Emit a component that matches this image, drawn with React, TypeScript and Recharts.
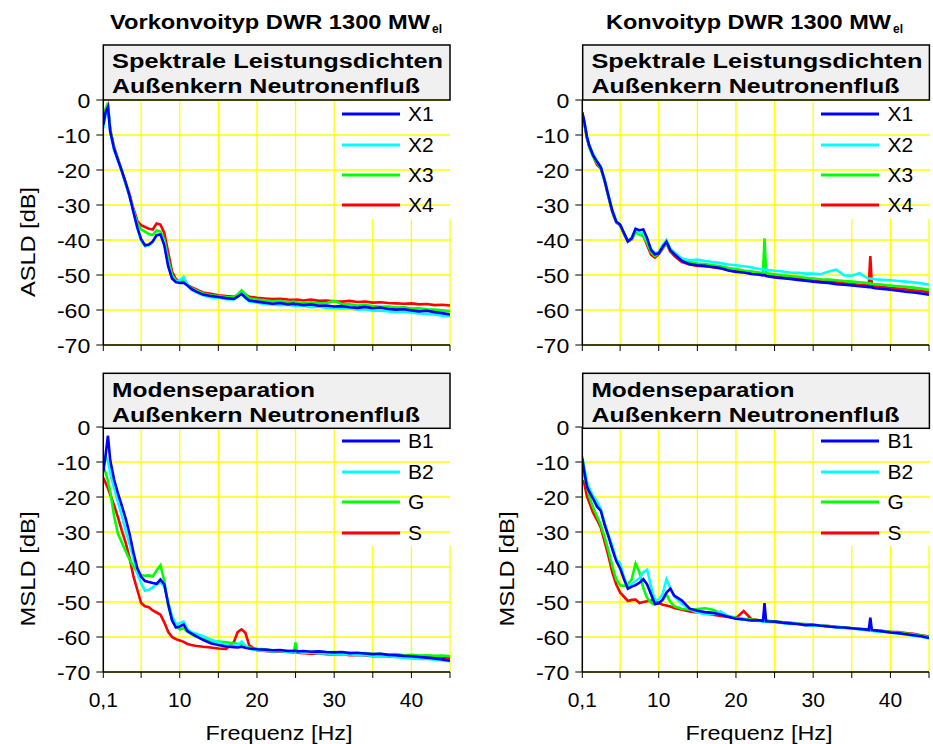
import React from "react";
import { LineChart, Line, XAxis, YAxis, CartesianGrid, ReferenceLine, Legend } from "recharts";

// frequency grid of the left column (Vorkonvoi), Hz
const FREQ_LEFT = [
  0.1, 0.4, 0.7, 1, 1.5, 2, 2.5, 3, 3.5, 4, 4.5,
  5, 5.5, 6, 6.5, 7, 7.5, 8, 8.5, 9, 9.5,
  10, 10.5, 11, 11.5, 12,
  13, 14, 15, 16, 17, 17.5, 18, 18.5, 19, 20, 21, 22, 23, 24,
  24.8, 25, 25.2,
  26, 27, 28, 29, 30, 31, 32, 33, 34, 35, 36, 37, 38, 39, 40, 41, 42, 43, 44, 45,
];

// frequency grid of the right column (Konvoi), Hz
const FREQ_RIGHT = [
  0.1, 0.3, 0.7, 1, 1.5, 2, 2.5, 3, 3.5, 4, 4.5,
  5, 5.5, 6, 6.5, 7, 7.5, 8, 8.5, 9, 9.5,
  10, 10.5, 11, 11.5, 12,
  13, 14, 15, 16, 17, 18, 19, 20, 21, 22, 23,
  23.5, 23.7, 23.9,
  25, 26, 27, 28, 29, 30, 31, 32, 33, 34, 35, 36, 37,
  37.2, 37.4, 37.6,
  38, 39, 40, 41, 42, 43, 44, 45,
];

// ASLD Vorkonvoi [dB]
const TL_X1 = [
  -7.1, -3.5, -2.0, -9.0, -14.0, -17.2, -20.3, -23.6, -27.4, -32.0, -36.4,
  -39.8, -41.5, -41.3, -40.4, -38.6, -38.4, -41.5, -47.5, -51.0, -52.0,
  -52.3, -52.2, -53.0, -54.0, -54.6,
  -55.6, -56.0, -56.3, -56.6, -56.8, -56.2, -55.4, -56.4, -57.3, -57.6, -57.9, -58.2, -58.0, -58.4,
  -58.2, -58.4, -58.3,
  -58.6, -58.4, -58.8, -58.7, -59.0, -58.9, -59.2, -59.4, -59.1, -59.5, -59.3, -59.7, -59.9, -59.8, -60.1, -60.4, -60.2, -60.6, -60.9, -61.3,
];
const TL_X2 = [
  -8.0, -4.0, -2.3, -9.3, -14.3, -17.3, -20.2, -23.8, -27.2, -31.8, -36.5,
  -40.2, -41.8, -41.5, -40.6, -38.7, -38.3, -41.0, -47.0, -50.8, -52.0,
  -51.5, -50.6, -52.8, -54.2, -54.8,
  -55.8, -56.4, -56.5, -56.9, -57.0, -56.3, -55.2, -56.6, -57.6, -57.9, -58.3, -58.4, -58.6, -58.5,
  -58.8, -58.9, -58.7,
  -58.8, -59.2, -59.0, -59.4, -59.4, -59.6, -59.5, -59.9, -59.8, -60.2, -60.1, -60.4, -60.6, -60.5, -60.8, -61.0, -61.1, -61.3, -61.6, -61.8,
];
const TL_X3 = [
  -6.0, -2.5, -0.8, -8.5, -13.8, -17.0, -20.4, -24.0, -27.6, -31.5, -35.2,
  -37.0, -37.6, -38.3, -38.6, -37.3, -37.6, -40.0, -45.5, -50.0, -51.6,
  -52.0, -51.5, -53.0, -53.8, -54.3,
  -55.3, -55.8, -56.0, -56.3, -56.4, -55.6, -54.4, -55.5, -56.7, -57.0, -57.2, -57.5, -57.4, -57.8,
  -57.6, -57.7, -57.8,
  -58.0, -57.8, -58.1, -58.0, -57.4, -58.3, -58.4, -58.7, -58.6, -58.9, -59.1, -59.0, -59.3, -59.2, -59.6, -59.5, -59.8, -59.9, -60.1, -60.4,
];
const TL_X4 = [
  -4.5, -2.8, -1.5, -8.5, -13.5, -16.8, -20.2, -23.8, -27.0, -31.0, -34.5,
  -35.8, -36.3, -36.8, -37.0, -35.3, -35.6, -38.0, -43.5, -49.0, -51.2,
  -51.8, -51.0, -52.8, -53.5, -54.0,
  -55.0, -55.4, -55.8, -56.0, -56.2, -55.8, -55.0, -55.6, -56.2, -56.5, -56.7, -56.9, -56.8, -57.0,
  -57.1, -57.1, -57.0,
  -57.3, -57.0, -57.4, -57.3, -57.5, -57.6, -57.4, -57.7, -57.6, -57.9, -57.8, -58.0, -58.1, -58.2, -58.1, -58.4, -58.3, -58.6, -58.5, -58.7,
];

// ASLD Konvoi [dB]
const TR_X1 = [
  -3.5, -5.5, -10.5, -13.0, -15.8, -17.6, -19.2, -23.0, -27.5, -31.8, -34.8,
  -35.6, -38.0, -40.4, -39.5, -36.8, -37.2, -37.0, -39.5, -42.8, -44.1,
  -43.8, -42.0, -40.5, -42.9, -44.0,
  -46.0, -46.9, -47.2, -47.4, -47.7, -48.0, -48.7, -49.1, -49.3, -49.7, -49.9,
  -50.1, -50.0, -50.3,
  -50.7, -50.9, -51.1, -51.4, -51.6, -51.9, -52.1, -52.3, -52.6, -52.8, -53.0, -53.2, -53.4,
  -53.5, -53.4, -53.6,
  -53.8, -54.0, -54.2, -54.5, -54.8, -55.0, -55.3, -55.6,
];
const TR_X2 = [
  -5.0, -5.8, -10.3, -12.8, -15.5, -17.4, -19.0, -22.7, -27.2, -31.5, -34.7,
  -35.6, -38.0, -40.3, -39.3, -36.8, -38.0, -38.0, -40.0, -42.5, -43.8,
  -43.5, -41.5, -40.0, -42.5, -43.5,
  -45.3, -45.8, -45.6, -46.0, -46.3, -46.6, -47.0, -47.2, -47.5, -47.8, -48.3,
  -48.4, -48.5, -48.5,
  -48.8, -49.0, -49.3, -49.4, -49.6, -49.6, -49.8, -49.0, -48.5, -50.1, -50.2, -49.5, -50.9,
  -51.0, -51.0, -51.1,
  -51.2, -51.4, -51.5, -51.7, -51.9, -52.1, -52.4, -52.8,
];
const TR_X3 = [
  -4.0, -5.5, -10.8, -13.5, -16.2, -18.0, -19.5, -23.3, -27.8, -32.0, -35.0,
  -35.8, -38.2, -40.3, -39.8, -37.8, -38.5, -38.8, -41.0, -43.5, -44.6,
  -43.8, -42.3, -41.0, -43.0, -44.0,
  -45.8, -46.3, -46.7, -46.9, -47.2, -47.5, -48.0, -48.3, -48.7, -49.0, -49.3,
  -49.4, -39.5, -49.5,
  -49.8, -50.1, -50.3, -50.5, -50.8, -51.0, -51.2, -51.3, -51.5, -51.7, -51.9, -52.1, -52.3,
  -52.4, -52.4, -52.5,
  -52.6, -52.8, -53.0, -53.2, -53.4, -53.6, -53.9, -54.2,
];
const TR_X4 = [
  -4.0, -5.8, -11.0, -13.3, -16.0, -18.5, -19.6, -23.2, -27.8, -32.0, -35.0,
  -35.8, -38.3, -40.5, -39.8, -37.5, -38.2, -38.8, -41.5, -44.2, -45.0,
  -44.0, -42.5, -41.0, -43.3, -44.5,
  -46.3, -47.0, -47.4, -47.5, -47.8, -48.1, -48.5, -48.9, -49.2, -49.5, -49.6,
  -49.9, -50.0, -50.1,
  -50.4, -50.6, -50.9, -51.1, -51.3, -51.6, -51.8, -51.9, -52.1, -52.4, -52.6, -52.8, -53.0,
  -53.0, -44.6, -53.1,
  -53.2, -53.4, -53.7, -53.9, -54.1, -54.4, -54.6, -54.9,
];

// MSLD Vorkonvoi [dB]
const BL_B1 = [
  -12.7, -8.0, -2.5, -9.5, -15.0, -19.0, -22.5, -26.2, -30.5, -35.8, -40.3,
  -42.8, -44.0, -44.3, -44.6, -44.8, -43.6, -45.0, -50.5, -55.2, -57.3,
  -57.0, -56.4, -58.3, -59.0, -59.6,
  -60.8, -61.8, -62.3, -62.7, -62.9, -63.0, -62.8, -63.1, -63.3, -63.5, -63.6, -63.8, -63.7, -64.0,
  -64.0, -63.9, -64.1,
  -64.0, -64.2, -64.1, -64.3, -64.4, -64.3, -64.6, -64.5, -64.7, -64.9, -64.8, -65.1, -65.2, -65.4, -65.5, -65.7, -65.9, -66.1, -66.4, -66.8,
];
const BL_B2 = [
  -9.3, -8.4, -9.8, -13.2, -17.5, -21.5, -25.3, -29.6, -33.5, -37.4, -41.8,
  -44.6, -46.8, -46.5, -45.8, -45.0, -44.4, -45.5, -50.0, -54.0, -56.4,
  -56.0, -55.6, -57.8, -58.6, -59.0,
  -59.8, -60.7, -61.5, -62.4, -62.6, -62.3, -61.3, -62.5, -63.4, -63.8, -63.9, -64.1, -64.0, -64.3,
  -64.2, -64.4, -64.3,
  -64.5, -64.4, -64.7, -64.6, -64.9, -65.0, -64.9, -65.2, -65.1, -65.4, -65.6, -65.5, -65.8, -65.9, -66.1, -66.3, -66.2, -66.5, -66.7, -66.9,
];
const BL_G = [
  -11.5, -13.0, -15.5, -18.5, -25.5, -30.5, -33.0, -35.5, -37.8, -39.8, -41.5,
  -42.3, -42.5, -42.4, -42.7, -41.0, -39.5, -44.0, -51.0, -55.0, -56.8,
  -57.8, -57.5, -58.5, -59.2, -59.8,
  -60.6, -61.2, -61.3, -61.5, -61.8, -62.0, -62.2, -62.6, -63.0, -63.4, -63.5, -63.8, -63.9, -64.0,
  -63.9, -61.6, -64.0,
  -64.1, -64.3, -64.2, -64.4, -64.3, -64.6, -64.5, -64.7, -64.6, -64.9, -64.8, -65.0, -64.9, -65.2, -65.1, -65.3, -65.2, -65.4, -65.3, -65.5,
];
const BL_S = [
  -14.5, -16.0, -17.5, -19.3, -22.4, -25.8, -29.6, -33.1, -37.4, -42.6, -46.5,
  -50.3, -51.2, -51.5, -52.4, -53.0, -53.6, -55.8, -58.5, -60.0, -60.6,
  -61.0, -61.4, -62.0, -62.3, -62.5,
  -62.8, -63.0, -63.3, -63.4, -61.5, -58.6, -57.8, -58.8, -62.4, -63.8, -64.0, -64.2, -64.1, -64.3,
  -64.4, -64.3, -64.5,
  -64.6, -64.8, -64.7, -64.9, -65.0, -64.9, -65.2, -65.1, -65.3, -65.5, -65.4, -65.6, -65.5, -65.7, -65.8, -65.6, -65.9, -65.8, -66.0, -66.1,
];

// MSLD Konvoi [dB]
const BR_B1 = [
  -9.0, -12.0, -17.0, -18.5, -20.5, -22.7, -24.0, -28.0, -31.3, -35.0, -38.3,
  -40.4, -43.5, -46.2, -45.6, -45.2, -44.5, -43.5, -45.0, -47.8, -50.5,
  -50.4, -49.3, -47.3, -46.2, -48.2,
  -49.6, -51.9, -52.5, -52.9, -53.1, -53.6, -54.2, -54.8, -55.0, -55.3, -55.2,
  -55.4, -50.3, -55.5,
  -55.6, -55.9, -56.1, -56.3, -56.6, -56.5, -56.8, -57.0, -57.2, -57.3, -57.5, -57.7, -57.9,
  -58.0, -54.5, -58.0,
  -58.1, -58.4, -58.7, -58.9, -59.2, -59.5, -59.8, -60.3,
];
const BR_B2 = [
  -8.3, -11.0, -15.6, -17.5, -19.8, -21.3, -23.4, -27.5, -31.0, -34.0, -37.8,
  -39.0, -43.0, -45.6, -45.0, -44.0, -43.2, -41.5, -40.8, -45.5, -49.6,
  -49.2, -47.8, -43.5, -46.0, -48.4,
  -50.6, -52.0, -53.0, -53.4, -53.5, -52.7, -54.0, -54.8, -55.0, -55.3, -55.4,
  -55.6, -55.5, -55.7,
  -55.8, -56.0, -56.3, -56.2, -56.6, -56.8, -56.7, -57.0, -57.3, -57.4, -57.6, -57.8, -58.1,
  -58.1, -58.2, -58.2,
  -58.4, -58.5, -58.8, -59.0, -59.3, -59.6, -59.9, -60.4,
];
const BR_G = [
  -11.2, -13.5, -17.0, -19.8, -23.0, -25.5, -28.0, -31.5, -35.5, -39.8, -43.6,
  -45.2, -45.4, -45.0, -43.5, -39.0, -41.5, -46.0, -48.9, -50.2, -50.8,
  -50.2, -49.6, -47.8, -50.0, -51.2,
  -52.0, -52.1, -52.0, -51.8, -52.2, -53.2, -54.0, -54.5, -54.8, -55.0, -55.2,
  -55.3, -55.2, -55.4,
  -55.6, -55.7, -55.9, -56.2, -56.3, -56.5, -56.7, -56.9, -57.1, -57.3, -57.5, -57.6, -57.8,
  -57.9, -57.9, -58.0,
  -58.1, -58.3, -58.5, -58.7, -59.0, -59.2, -59.6, -60.0,
];
const BR_S = [
  -16.0, -15.5, -19.8, -21.5, -24.5, -26.5, -28.8, -32.8, -37.0, -41.6, -45.0,
  -47.3, -48.5, -49.7, -49.4, -49.3, -50.3, -50.0, -49.8, -49.6, -49.3,
  -50.2, -50.8, -51.0, -51.3, -51.7,
  -52.2, -52.7, -53.0, -53.3, -53.6, -54.0, -54.3, -54.6, -52.6, -54.9, -55.2,
  -55.3, -55.4, -55.4,
  -55.6, -55.8, -56.0, -56.2, -56.4, -56.6, -56.7, -56.9, -57.1, -57.3, -57.5, -57.7, -57.8,
  -57.9, -58.0, -58.0,
  -58.1, -58.3, -58.5, -58.6, -58.9, -59.1, -59.5, -59.9,
];

const X_TICKS = [0.1, 5, 10, 15, 20, 25, 30, 35, 40, 45];
const Y_TICKS = [0, -10, -20, -30, -40, -50, -60, -70];
const GRID_FULL = [5, 10, 15, 20, 25, 30];
const GRID_CUT = [35, 40, 45];

const FONT = '"Liberation Sans", Arial, Helvetica, sans-serif';
const YELLOW = "#ffff00";
const CHART_W = 465;
const CHART_H = 385;

type Series = { key: string; name: string; color: string; values: number[] };

function LegendBox(props: any) {
  const items = [...(props.payload || [])].sort((a: any, b: any) =>
    String(a.value).localeCompare(String(b.value))
  );
  return (
    <div style={{ fontFamily: FONT, fontSize: 21, color: "#000" }}>
      {items.map((it: any) => (
        <div key={it.value} style={{ display: "flex", alignItems: "center", height: 30.4 }}>
          <svg width={58} height={4} style={{ display: "block" }}>
            <line x1={0} y1={2} x2={58} y2={2} stroke={it.color} strokeWidth={3} />
          </svg>
          <span style={{ marginLeft: 8, lineHeight: "30px" }}>{it.value}</span>
        </div>
      ))}
    </div>
  );
}

// slightly widened tick text, as in the original figure
function YTick({ x, y, payload }: any) {
  return (
    <text transform={`translate(${x},${y}) scale(1.1,1)`} textAnchor="end" dy="0.36em" fontSize={21} fontFamily={FONT} fill="#000">
      {payload.value}
    </text>
  );
}

function Panel({ left, top, freq, series, xLabels }: { left: number; top: number; freq: number[]; series: Series[]; xLabels: boolean }) {
  const rows = freq.map((f, i) => {
    const r: any = { f };
    series.forEach((s) => (r[s.key] = s.values[i]));
    return r;
  });
  // draw order: red, green, cyan, blue on top
  const drawOrder = [...series].reverse();
  return (
    <div style={{ position: "absolute", left, top }}>
      <LineChart width={CHART_W} height={CHART_H} data={rows} margin={{ top: 100, right: 15, left: 0, bottom: 0 }}>
        <CartesianGrid vertical={false} stroke={YELLOW} strokeWidth={1.3} />
        {GRID_FULL.map((x) => (
          <ReferenceLine key={x} x={x} stroke={YELLOW} strokeWidth={1.3} zIndex={-50} />
        ))}
        {GRID_CUT.map((x) => (
          <ReferenceLine key={x} segment={[{ x, y: -70 }, { x, y: -34 }]} stroke={YELLOW} strokeWidth={1.3} zIndex={-50} />
        ))}
        <XAxis
          type="number"
          dataKey="f"
          domain={[0.1, 45]}
          ticks={X_TICKS}
          interval={0}
          allowDataOverflow
          height={40}
          tickSize={6}
          tickMargin={14}
          axisLine={{ stroke: "#000", strokeWidth: 1.5 }}
          tickLine={{ stroke: "#000" }}
          tick={{ fill: "#000", fontSize: 21, fontFamily: FONT }}
          tickFormatter={(v: number) => (!xLabels ? "" : v === 0.1 ? "0,1" : v % 10 === 0 ? String(v) : "")}
        />
        <YAxis
          type="number"
          domain={[-70, 0]}
          ticks={Y_TICKS}
          interval={0}
          width={103.3}
          tickSize={7}
          tickMargin={6}
          axisLine={{ stroke: "#000", strokeWidth: 1.5 }}
          tickLine={{ stroke: "#000" }}
          tick={<YTick />}
        />
        {drawOrder.map((s) => (
          <Line
            key={s.key}
            type="linear"
            dataKey={s.key}
            name={s.name}
            stroke={s.color}
            strokeWidth={2.6}
            dot={false}
            isAnimationActive={false}
          />
        ))}
        <Legend
          layout="vertical"
          align="center"
          verticalAlign="middle"
          wrapperStyle={{ left: 342, top: 99, width: 110 }}
          content={(p: any) => <LegendBox {...p} />}
        />
      </LineChart>
    </div>
  );
}

const BLUE = "#0000ff";
const CYAN = "#00ffff";
const GREEN = "#00ff00";
const RED = "#ff0000";

function TitleBox({ x, y, lines }: { x: number; y: number; lines: [string, number][] }) {
  return (
    <g>
      <rect x={x} y={y} width={346.7} height={55} fill="#f0f0f0" stroke="#000" strokeWidth={1.5} />
      {lines.map(([t, len], i) => (
        <text
          key={t}
          x={x + 8.7}
          y={y + 23.4 + i * 24.8}
          fontSize={20}
          fontWeight="bold"
          textLength={len}
          lengthAdjust="spacingAndGlyphs"
        >
          {t}
        </text>
      ))}
    </g>
  );
}

export default function App() {
  const top = [
    { key: "x1", name: "X1", color: BLUE },
    { key: "x2", name: "X2", color: CYAN },
    { key: "x3", name: "X3", color: GREEN },
    { key: "x4", name: "X4", color: RED },
  ];
  const bottom = [
    { key: "b1", name: "B1", color: BLUE },
    { key: "b2", name: "B2", color: CYAN },
    { key: "g", name: "G", color: GREEN },
    { key: "s", name: "S", color: RED },
  ];
  const withValues = (defs: any[], vals: number[][]): Series[] => defs.map((d, i) => ({ ...d, values: vals[i] }));

  return (
    <div style={{ position: "absolute", left: 0, top: 0, width: 933, height: 744, overflow: "hidden", background: "#fff", fontFamily: FONT }}>
      <Panel left={0} top={0} freq={FREQ_LEFT} series={withValues(top, [TL_X1, TL_X2, TL_X3, TL_X4])} xLabels={false} />
      <Panel left={479.4} top={0} freq={FREQ_RIGHT} series={withValues(top, [TR_X1, TR_X2, TR_X3, TR_X4])} xLabels={false} />
      <Panel left={0} top={327.3} freq={FREQ_LEFT} series={withValues(bottom, [BL_B1, BL_B2, BL_G, BL_S])} xLabels />
      <Panel left={479.4} top={327.3} freq={FREQ_RIGHT} series={withValues(bottom, [BR_B1, BR_B2, BR_G, BR_S])} xLabels />

      <svg width={933} height={744} style={{ position: "absolute", left: 0, top: 0, pointerEvents: "none" }} fontFamily={FONT}>
        <text x={110} y={28.5} fontSize={19.5} fontWeight="bold" textLength={320} lengthAdjust="spacingAndGlyphs">
          Vorkonvoityp DWR 1300 MW
        </text>
        <text x={432} y={33} fontSize={12} fontWeight="bold">el</text>
        <text x={606} y={28.5} fontSize={19.5} fontWeight="bold" textLength={285} lengthAdjust="spacingAndGlyphs">
          Konvoityp DWR 1300 MW
        </text>
        <text x={893} y={33} fontSize={12} fontWeight="bold">el</text>

        <TitleBox x={103.3} y={45} lines={[["Spektrale Leistungsdichten", 331], ["Außenkern Neutronenfluß", 308]]} />
        <TitleBox x={582.7} y={45} lines={[["Spektrale Leistungsdichten", 331], ["Außenkern Neutronenfluß", 308]]} />
        <TitleBox x={103.3} y={373.3} lines={[["Modenseparation", 203], ["Außenkern Neutronenfluß", 308]]} />
        <TitleBox x={582.7} y={373.3} lines={[["Modenseparation", 203], ["Außenkern Neutronenfluß", 308]]} />

        <text transform="translate(35,242) rotate(-90)" textAnchor="middle" fontSize={21} textLength={110} lengthAdjust="spacingAndGlyphs">
          ASLD [dB]
        </text>
        <text transform="translate(35,569) rotate(-90)" textAnchor="middle" fontSize={21} textLength={115} lengthAdjust="spacingAndGlyphs">
          MSLD [dB]
        </text>
        <text transform="translate(514,569) rotate(-90)" textAnchor="middle" fontSize={21} textLength={115} lengthAdjust="spacingAndGlyphs">
          MSLD [dB]
        </text>

        <text x={279} y={740} textAnchor="middle" fontSize={21} textLength={147} lengthAdjust="spacingAndGlyphs">
          Frequenz [Hz]
        </text>
        <text x={759} y={740} textAnchor="middle" fontSize={21} textLength={147} lengthAdjust="spacingAndGlyphs">
          Frequenz [Hz]
        </text>
      </svg>
    </div>
  );
}
